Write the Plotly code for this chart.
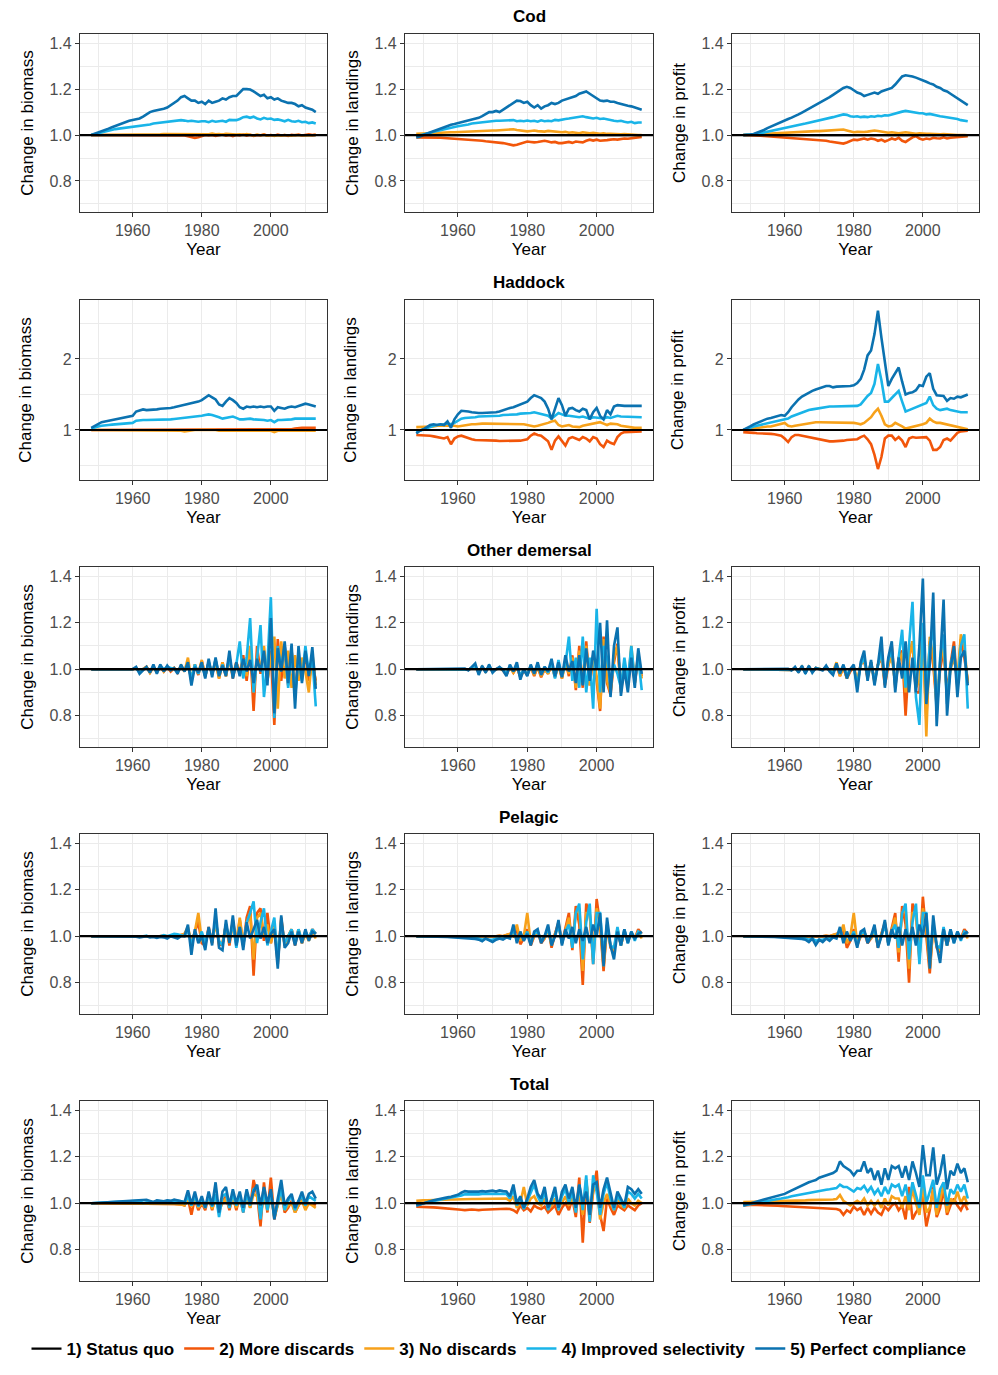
import plotly.graph_objects as go
from plotly.subplots import make_subplots

YEARS = [1948, 1949,
         1950, 1951, 1952, 1953, 1954, 1955, 1956, 1957, 1958, 1959,
         1960, 1961, 1962, 1963, 1964, 1965, 1966, 1967, 1968, 1969,
         1970, 1971, 1972, 1973, 1974, 1975, 1976, 1977, 1978, 1979,
         1980, 1981, 1982, 1983, 1984, 1985, 1986, 1987, 1988, 1989,
         1990, 1991, 1992, 1993, 1994, 1995, 1996, 1997, 1998, 1999,
         2000, 2001, 2002, 2003, 2004, 2005, 2006, 2007, 2008, 2009,
         2010, 2011, 2012, 2013]

SCENARIOS = ["1) Status quo", "2) More discards", "3) No discards",
             "4) Improved selectivity", "5) Perfect compliance"]
STOCKS = ["Cod", "Haddock", "Other demersal", "Pelagic", "Total"]
METRICS = ["Change in biomass", "Change in landings", "Change in profit"]

STATUS_QUO = [1.0, 1.0,
              1.0, 1.0, 1.0, 1.0, 1.0, 1.0, 1.0, 1.0, 1.0, 1.0,
              1.0, 1.0, 1.0, 1.0, 1.0, 1.0, 1.0, 1.0, 1.0, 1.0,
              1.0, 1.0, 1.0, 1.0, 1.0, 1.0, 1.0, 1.0, 1.0, 1.0,
              1.0, 1.0, 1.0, 1.0, 1.0, 1.0, 1.0, 1.0, 1.0, 1.0,
              1.0, 1.0, 1.0, 1.0, 1.0, 1.0, 1.0, 1.0, 1.0, 1.0,
              1.0, 1.0, 1.0, 1.0, 1.0, 1.0, 1.0, 1.0, 1.0, 1.0,
              1.0, 1.0, 1.0, 1.0]

# ---------------- Cod ----------------
COD_BIO_MD = [1.000, 1.000,
              1.000, 1.000, 1.000, 1.000, 1.000, 1.000, 1.000, 1.000, 1.000, 1.000,
              1.000, 1.000, 1.000, 1.000, 1.000, 1.000, 1.000, 1.000, 1.000, 1.000,
              1.000, 1.000, 1.000, 1.000, 0.999, 0.998, 0.995, 0.990, 0.988, 0.990,
              0.995, 1.000, 0.998, 1.000, 0.996, 1.000, 1.002, 0.997, 1.000, 0.995,
              1.000, 0.998, 1.002, 0.997, 1.001, 0.996, 1.000, 0.998, 1.003, 0.997,
              1.000, 0.997, 1.002, 0.998, 1.000, 0.996, 1.001, 0.999, 1.002, 0.998,
              1.000, 1.003, 1.000, 1.002]
COD_BIO_ND = [1.000, 1.000,
              1.000, 1.000, 1.000, 1.001, 1.001, 1.001, 1.001, 1.001, 1.002, 1.002,
              1.002, 1.002, 1.002, 1.003, 1.003, 1.003, 1.003, 1.003, 1.003, 1.004,
              1.004, 1.004, 1.004, 1.005, 1.005, 1.005, 1.004, 1.003, 1.002, 1.003,
              1.005, 1.004, 1.003, 1.006, 1.003, 1.004, 1.002, 1.005, 1.003, 1.004,
              1.002, 1.003, 1.001, 1.004, 1.000, 0.998, 1.002, 0.999, 1.001, 0.997,
              1.000, 0.996, 0.999, 0.997, 1.000, 0.998, 0.997, 1.000, 0.998, 0.999,
              0.998, 1.000, 0.999, 1.000]
COD_BIO_IS = [1.000, 1.004,
              1.008, 1.012, 1.016, 1.020, 1.023, 1.026, 1.028, 1.030, 1.031, 1.032,
              1.034, 1.036, 1.038, 1.040, 1.043, 1.046, 1.050, 1.052, 1.054, 1.056,
              1.058, 1.060, 1.062, 1.064, 1.065, 1.063, 1.060, 1.062, 1.060, 1.058,
              1.060, 1.060, 1.056, 1.062, 1.058, 1.060, 1.062, 1.058, 1.066, 1.065,
              1.065, 1.070, 1.078, 1.080, 1.075, 1.080, 1.072, 1.068, 1.075, 1.070,
              1.072, 1.066, 1.068, 1.064, 1.060, 1.066, 1.060, 1.058, 1.062, 1.056,
              1.058, 1.052, 1.055, 1.050]
COD_BIO_PC = [1.000, 1.005,
              1.010, 1.016, 1.022, 1.028, 1.034, 1.040, 1.046, 1.052, 1.057, 1.062,
              1.066, 1.068, 1.072, 1.080, 1.090, 1.100, 1.105, 1.108, 1.110, 1.115,
              1.120, 1.130, 1.140, 1.150, 1.165, 1.170, 1.160, 1.150, 1.150, 1.140,
              1.145, 1.135, 1.150, 1.140, 1.145, 1.150, 1.160, 1.155, 1.165, 1.170,
              1.170, 1.185, 1.200, 1.200, 1.198, 1.190, 1.180, 1.170, 1.175, 1.160,
              1.165, 1.155, 1.160, 1.150, 1.145, 1.140, 1.140, 1.135, 1.125, 1.130,
              1.120, 1.115, 1.110, 1.100]

COD_LAND_MD = [0.990, 0.990,
               0.991, 0.990, 0.990, 0.989, 0.988, 0.988, 0.987, 0.986, 0.986, 0.985,
               0.985, 0.984, 0.983, 0.982, 0.980, 0.978, 0.976, 0.975, 0.973, 0.972,
               0.970, 0.968, 0.967, 0.965, 0.962, 0.958, 0.955, 0.958, 0.962, 0.968,
               0.972, 0.970, 0.968, 0.970, 0.972, 0.975, 0.972, 0.968, 0.970, 0.965,
               0.965, 0.968, 0.970, 0.966, 0.972, 0.970, 0.968, 0.975, 0.980, 0.976,
               0.980, 0.975, 0.975, 0.978, 0.980, 0.982, 0.980, 0.983, 0.985, 0.984,
               0.986, 0.988, 0.990, 0.992]
COD_LAND_ND = [1.005, 1.006,
               1.007, 1.008, 1.008, 1.009, 1.010, 1.010, 1.010, 1.011, 1.012, 1.012,
               1.013, 1.014, 1.015, 1.015, 1.016, 1.017, 1.017, 1.018, 1.018, 1.019,
               1.020, 1.020, 1.021, 1.022, 1.022, 1.023, 1.025, 1.022, 1.020, 1.018,
               1.016, 1.018, 1.020, 1.017, 1.016, 1.015, 1.018, 1.016, 1.014, 1.012,
               1.012, 1.014, 1.010, 1.012, 1.010, 1.008, 1.012, 1.010, 1.008, 1.010,
               1.008, 1.006, 1.008, 1.005, 1.006, 1.004, 1.005, 1.003, 1.004, 1.002,
               1.002, 1.001, 1.000, 1.000]
COD_LAND_IS = [0.995, 0.998,
               1.002, 1.006, 1.010, 1.014, 1.018, 1.022, 1.026, 1.030, 1.032, 1.035,
               1.038, 1.040, 1.043, 1.046, 1.050, 1.052, 1.055, 1.056, 1.058, 1.060,
               1.060, 1.062, 1.062, 1.063, 1.064, 1.062, 1.065, 1.060, 1.062, 1.060,
               1.063, 1.060, 1.062, 1.058, 1.064, 1.060, 1.062, 1.060, 1.066, 1.064,
               1.068, 1.070, 1.072, 1.075, 1.078, 1.080, 1.082, 1.078, 1.075, 1.072,
               1.075, 1.070, 1.072, 1.068, 1.065, 1.062, 1.060, 1.062, 1.058, 1.055,
               1.058, 1.052, 1.055, 1.055]
COD_LAND_PC = [0.990, 0.993,
               1.000, 1.006, 1.012, 1.018, 1.024, 1.030, 1.036, 1.040, 1.045, 1.048,
               1.052, 1.055, 1.058, 1.062, 1.066, 1.070, 1.075, 1.082, 1.090, 1.100,
               1.100, 1.105, 1.100, 1.110, 1.120, 1.130, 1.140, 1.150, 1.148, 1.140,
               1.145, 1.130, 1.120, 1.130, 1.115, 1.125, 1.130, 1.140, 1.135, 1.140,
               1.150, 1.155, 1.160, 1.165, 1.170, 1.180, 1.185, 1.190, 1.180, 1.170,
               1.160, 1.150, 1.148, 1.150, 1.145, 1.145, 1.140, 1.135, 1.130, 1.128,
               1.125, 1.120, 1.115, 1.110]

COD_PROF_MD = [1.000, 1.000,
               0.999, 0.998, 0.998, 0.997, 0.996, 0.995, 0.994, 0.993, 0.992, 0.991,
               0.990, 0.989, 0.988, 0.987, 0.986, 0.985, 0.984, 0.983, 0.982, 0.980,
               0.979, 0.977, 0.975, 0.972, 0.970, 0.968, 0.965, 0.963, 0.968, 0.975,
               0.980, 0.978, 0.982, 0.985, 0.980, 0.985, 0.982, 0.975, 0.980, 0.972,
               0.978, 0.985, 0.980, 0.988, 0.975, 0.970, 0.980, 0.990, 0.995, 0.985,
               0.980, 0.985, 0.982, 0.988, 0.986, 0.985, 0.990, 0.985, 0.988, 0.990,
               0.990, 0.992, 0.995, 0.995]
COD_PROF_ND = [1.000, 1.000,
               1.001, 1.002, 1.003, 1.004, 1.005, 1.006, 1.007, 1.008, 1.009, 1.010,
               1.010, 1.011, 1.012, 1.012, 1.013, 1.014, 1.015, 1.015, 1.016, 1.017,
               1.017, 1.018, 1.018, 1.019, 1.020, 1.020, 1.022, 1.024, 1.020, 1.015,
               1.012, 1.014, 1.012, 1.013, 1.015, 1.017, 1.020, 1.018, 1.015, 1.012,
               1.010, 1.012, 1.010, 1.008, 1.010, 1.012, 1.010, 1.008, 1.006, 1.008,
               1.006, 1.005, 1.006, 1.004, 1.005, 1.003, 1.004, 1.002, 1.003, 1.001,
               1.000, 1.001, 1.000, 0.999]
COD_PROF_IS = [1.000, 1.000,
               1.001, 1.003, 1.005, 1.008, 1.012, 1.015, 1.018, 1.021, 1.024, 1.027,
               1.030, 1.033, 1.036, 1.039, 1.042, 1.046, 1.050, 1.054, 1.057, 1.060,
               1.063, 1.066, 1.070, 1.074, 1.078, 1.082, 1.086, 1.090, 1.088, 1.082,
               1.080, 1.082, 1.078, 1.080, 1.078, 1.082, 1.080, 1.084, 1.082, 1.086,
               1.085, 1.090, 1.095, 1.100, 1.102, 1.105, 1.102, 1.100, 1.098, 1.095,
               1.095, 1.090, 1.092, 1.088, 1.085, 1.082, 1.080, 1.078, 1.075, 1.072,
               1.070, 1.065, 1.062, 1.060]
COD_PROF_PC = [1.000, 1.000,
               1.002, 1.005, 1.010, 1.015, 1.022, 1.030, 1.037, 1.045, 1.052, 1.058,
               1.064, 1.070, 1.076, 1.082, 1.090, 1.098, 1.106, 1.114, 1.122, 1.130,
               1.138, 1.146, 1.155, 1.165, 1.175, 1.185, 1.195, 1.205, 1.210, 1.205,
               1.195, 1.185, 1.180, 1.170, 1.175, 1.180, 1.185, 1.180, 1.190, 1.195,
               1.200, 1.205, 1.220, 1.240, 1.255, 1.260, 1.258, 1.255, 1.250, 1.245,
               1.240, 1.232, 1.225, 1.220, 1.210, 1.205, 1.195, 1.190, 1.180, 1.170,
               1.160, 1.150, 1.140, 1.130]

# ---------------- Haddock ----------------
HAD_BIO_MD = [1.00, 1.00,
              1.00, 1.00, 1.00, 1.00, 1.00, 1.00, 1.00, 1.00, 1.00, 1.00,
              1.00, 1.00, 1.00, 1.00, 1.00, 1.00, 1.00, 1.00, 1.00, 1.00,
              1.00, 1.00, 1.00, 1.00, 1.00, 1.00, 1.00, 1.00, 1.00, 1.00,
              1.00, 1.00, 1.00, 1.00, 1.00, 1.00, 1.00, 1.00, 1.00, 1.00,
              1.00, 1.00, 1.00, 1.00, 1.00, 1.00, 1.00, 1.00, 1.00, 1.00,
              1.00, 1.00, 1.00, 1.00, 1.00, 1.01, 1.01, 1.02, 1.03, 1.03,
              1.03, 1.03, 1.03, 1.03]
HAD_BIO_ND = [1.00, 1.00,
              1.00, 1.00, 1.00, 1.00, 1.00, 1.00, 1.00, 1.00, 1.00, 1.00,
              1.00, 1.00, 1.00, 1.00, 1.00, 1.00, 1.00, 1.00, 1.00, 1.00,
              1.00, 1.00, 1.00, 0.99, 0.99, 0.98, 0.99, 1.00, 1.00, 1.00,
              1.00, 1.00, 1.01, 1.00, 1.00, 0.99, 0.99, 0.99, 0.99, 0.99,
              0.99, 0.99, 0.99, 0.99, 0.98, 0.99, 0.98, 0.99, 0.99, 0.98,
              0.99, 0.97, 0.99, 0.99, 0.99, 0.99, 0.99, 0.99, 0.99, 0.99,
              0.99, 0.99, 0.99, 0.99]
HAD_BIO_IS = [1.02, 1.04,
              1.05, 1.06, 1.07, 1.07, 1.075, 1.08, 1.08, 1.085, 1.09, 1.095,
              1.10, 1.13, 1.14, 1.14, 1.14, 1.14, 1.14, 1.145, 1.145, 1.15,
              1.15, 1.15, 1.155, 1.16, 1.16, 1.165, 1.17, 1.175, 1.18, 1.19,
              1.20, 1.21, 1.22, 1.21, 1.20, 1.18, 1.16, 1.17, 1.19, 1.19,
              1.17, 1.15, 1.15, 1.16, 1.16, 1.15, 1.15, 1.14, 1.14, 1.13,
              1.14, 1.11, 1.14, 1.14, 1.14, 1.15, 1.15, 1.16, 1.16, 1.17,
              1.17, 1.17, 1.16, 1.16]
HAD_BIO_PC = [1.03, 1.06,
              1.09, 1.11, 1.12, 1.13, 1.13, 1.14, 1.15, 1.16, 1.17, 1.18,
              1.20, 1.26, 1.28, 1.29, 1.28, 1.28, 1.29, 1.29, 1.30, 1.30,
              1.31, 1.31, 1.32, 1.33, 1.34, 1.35, 1.36, 1.37, 1.38, 1.40,
              1.42, 1.45, 1.49, 1.46, 1.43, 1.36, 1.34, 1.40, 1.45, 1.42,
              1.38, 1.32, 1.30, 1.33, 1.32, 1.33, 1.32, 1.33, 1.32, 1.33,
              1.33, 1.27, 1.32, 1.31, 1.30, 1.32, 1.33, 1.32, 1.34, 1.36,
              1.37, 1.36, 1.35, 1.33]

HAD_LAND_MD = [0.93, 0.93,
               0.92, 0.92, 0.92, 0.91, 0.90, 0.89, 0.88, 0.90, 0.80, 0.88,
               0.91, 0.92, 0.90, 0.88, 0.87, 0.86, 0.86, 0.85, 0.85, 0.85,
               0.85, 0.85, 0.845, 0.845, 0.845, 0.845, 0.85, 0.85, 0.85, 0.86,
               0.87, 0.92, 0.95, 0.93, 0.92, 0.88, 0.84, 0.72, 0.85, 0.91,
               0.84, 0.78, 0.88, 0.90, 0.88, 0.86, 0.90, 0.88, 0.84, 0.90,
               0.88, 0.80, 0.76, 0.85, 0.82, 0.80, 0.90, 0.95, 0.97, 0.97,
               0.98, 0.98, 0.98, 0.98]
HAD_LAND_ND = [1.04, 1.04,
               1.05, 1.05, 1.05, 1.05, 1.06, 1.06, 1.06, 1.07, 1.07, 1.06,
               1.05, 1.06, 1.07, 1.08, 1.08, 1.08, 1.09, 1.09, 1.09, 1.09,
               1.09, 1.09, 1.09, 1.09, 1.09, 1.09, 1.09, 1.09, 1.09, 1.08,
               1.07, 1.06, 1.05, 1.06, 1.07, 1.08, 1.10, 1.12, 1.13, 1.07,
               1.05, 1.06, 1.07, 1.05, 1.04, 1.04, 1.06, 1.07, 1.08, 1.08,
               1.10, 1.11, 1.09, 1.07, 1.09, 1.09, 1.08, 1.06, 1.05, 1.04,
               1.04, 1.03, 1.03, 1.03]
HAD_LAND_IS = [0.97, 0.99,
               1.01, 1.03, 1.05, 1.06, 1.07, 1.07, 1.08, 1.09, 1.08, 1.10,
               1.13, 1.16, 1.17, 1.17, 1.18, 1.18, 1.19, 1.19, 1.19, 1.20,
               1.20, 1.20, 1.20, 1.21, 1.21, 1.21, 1.22, 1.22, 1.23, 1.23,
               1.24, 1.24, 1.25, 1.24, 1.23, 1.22, 1.20, 1.16, 1.20, 1.24,
               1.22, 1.20, 1.20, 1.19, 1.18, 1.18, 1.19, 1.18, 1.16, 1.18,
               1.18, 1.17, 1.16, 1.18, 1.17, 1.19, 1.20, 1.19, 1.19, 1.18,
               1.18, 1.18, 1.18, 1.18]
HAD_LAND_PC = [0.95, 0.99,
               1.01, 1.04, 1.07, 1.08, 1.07, 1.08, 1.07, 1.12, 1.03, 1.15,
               1.22, 1.27, 1.27, 1.26, 1.25, 1.24, 1.24, 1.24, 1.24, 1.24,
               1.25, 1.25, 1.26, 1.28, 1.30, 1.31, 1.32, 1.34, 1.35, 1.37,
               1.40, 1.45, 1.49, 1.47, 1.45, 1.40, 1.30, 1.15, 1.30, 1.45,
               1.35, 1.20, 1.30, 1.31, 1.28, 1.26, 1.30, 1.28, 1.15, 1.25,
               1.31, 1.20, 1.15, 1.28, 1.22, 1.33, 1.35, 1.34, 1.34, 1.34,
               1.34, 1.34, 1.35, 1.34]

HAD_PROF_MD = [0.97, 0.97,
               0.965, 0.96, 0.955, 0.955, 0.95, 0.95, 0.945, 0.94, 0.93, 0.92,
               0.88, 0.83, 0.90, 0.93, 0.93, 0.92, 0.90, 0.89, 0.88, 0.87,
               0.86, 0.86, 0.85, 0.84, 0.84, 0.84, 0.84, 0.85, 0.86, 0.86,
               0.86, 0.87, 0.90, 0.92, 0.87, 0.80, 0.65, 0.45, 0.62, 0.88,
               0.92, 0.92, 0.86, 0.90, 0.85, 0.76, 0.88, 0.90, 0.89, 0.89,
               0.89, 0.90, 0.85, 0.72, 0.72, 0.76, 0.86, 0.88, 0.85, 0.90,
               0.96, 0.98, 0.99, 0.99]
HAD_PROF_ND = [1.00, 1.00,
               1.01, 1.02, 1.03, 1.03, 1.04, 1.05, 1.05, 1.06, 1.07, 1.08,
               1.10, 1.06, 1.05, 1.06, 1.07, 1.08, 1.09, 1.10, 1.10, 1.11,
               1.11, 1.11, 1.11, 1.11, 1.11, 1.11, 1.11, 1.11, 1.11, 1.10,
               1.10, 1.09, 1.08, 1.10, 1.14, 1.18, 1.25, 1.30, 1.20, 1.08,
               1.05, 1.06, 1.10, 1.08, 1.05, 1.02, 1.03, 1.05, 1.06, 1.06,
               1.08, 1.10, 1.16, 1.12, 1.10, 1.10, 1.09, 1.07, 1.06, 1.05,
               1.04, 1.03, 1.02, 1.01]
HAD_PROF_IS = [1.00, 1.01,
               1.03, 1.05, 1.06, 1.07, 1.08, 1.09, 1.10, 1.11, 1.12, 1.13,
               1.14, 1.16, 1.19, 1.21, 1.23, 1.25, 1.27, 1.28, 1.29, 1.30,
               1.31, 1.32, 1.33, 1.33, 1.33, 1.33, 1.33, 1.33, 1.33, 1.33,
               1.33, 1.34, 1.36, 1.42, 1.48, 1.52, 1.65, 1.93, 1.70, 1.40,
               1.40, 1.45, 1.50, 1.55, 1.40, 1.26, 1.28, 1.30, 1.32, 1.34,
               1.35, 1.38, 1.47, 1.35, 1.30, 1.28, 1.29, 1.30, 1.28, 1.27,
               1.25, 1.25, 1.25, 1.25]
HAD_PROF_PC = [1.00, 1.02,
               1.05, 1.08, 1.10, 1.13, 1.15, 1.16, 1.17, 1.18, 1.20, 1.21,
               1.20, 1.25, 1.32, 1.38, 1.43, 1.47, 1.50, 1.53, 1.55, 1.57,
               1.59, 1.61, 1.62, 1.62, 1.60, 1.61, 1.61, 1.62, 1.62, 1.62,
               1.63, 1.66, 1.72, 1.85, 2.05, 2.12, 2.35, 2.68, 2.30, 1.95,
               1.62, 1.72, 1.80, 1.88, 1.68, 1.50, 1.52, 1.53, 1.56, 1.63,
               1.62, 1.75, 1.80, 1.58, 1.49, 1.49, 1.48, 1.41, 1.45, 1.44,
               1.47, 1.46, 1.48, 1.50]

# ---------------- Other demersal ----------------
OTH_BIO_MD = [1.0, 1.0,
              1.0, 1.0, 1.0, 1.0, 1.0, 1.0, 1.0, 1.0, 1.0, 1.0,
              1.0, 1.005, 0.99, 1.0, 1.01, 0.985, 1.01, 0.99, 1.01, 0.99,
              1.01, 0.99, 1.005, 0.985, 1.015, 0.99, 1.03, 0.95, 1.02, 0.975,
              1.035, 0.97, 1.03, 0.975, 1.04, 0.96, 1.03, 0.97, 1.05, 0.96,
              1.03, 0.98, 1.06, 0.95, 1.09, 0.82, 1.10, 0.98, 1.07, 0.95,
              1.08, 0.76, 1.13, 0.95, 1.10, 0.93, 1.08, 0.90, 1.06, 0.96,
              1.07, 0.95, 1.03, 0.95]
OTH_BIO_ND = [1.0, 1.0,
              1.0, 1.0, 1.0, 1.0, 1.0, 1.0, 1.0, 1.0, 1.0, 1.0,
              1.0, 1.005, 0.99, 1.0, 1.01, 0.985, 1.01, 0.985, 1.015, 0.99,
              1.01, 0.995, 1.005, 0.99, 1.015, 0.99, 1.05, 0.95, 1.02, 0.98,
              1.04, 0.97, 1.03, 0.98, 1.03, 0.96, 1.03, 0.97, 1.05, 0.97,
              1.03, 0.98, 1.04, 0.97, 1.10, 0.90, 1.05, 1.00, 1.10, 0.95,
              1.05, 1.14, 0.83, 1.12, 0.96, 1.08, 0.92, 1.06, 0.95, 1.05,
              0.99, 0.90, 1.07, 0.93]
OTH_BIO_IS = [1.0, 1.0,
              1.0, 1.0, 1.0, 1.0, 1.0, 1.0, 1.0, 1.0, 1.0, 1.0,
              1.0, 1.005, 0.985, 1.0, 1.005, 0.99, 1.01, 0.99, 1.015, 1.0,
              1.01, 1.005, 1.0, 0.99, 1.01, 0.995, 1.02, 0.96, 1.02, 0.98,
              1.02, 0.97, 1.03, 0.98, 1.04, 0.975, 1.02, 0.98, 1.05, 0.97,
              1.02, 1.12, 0.96, 1.05, 1.22, 0.90, 1.06, 1.19, 0.88, 1.02,
              1.31, 0.79, 1.10, 1.00, 1.10, 0.92, 1.08, 0.88, 1.05, 0.95,
              1.10, 0.98, 1.05, 0.84]
OTH_BIO_PC = [1.0, 1.0,
              1.0, 1.0, 1.0, 1.0, 1.0, 1.0, 1.0, 1.0, 0.998, 1.0,
              1.0, 1.01, 0.98, 0.995, 1.01, 0.985, 1.02, 0.98, 1.02, 0.99,
              1.015, 0.995, 1.005, 0.98, 1.02, 0.99, 1.03, 0.93, 1.01, 0.985,
              1.03, 0.96, 1.045, 0.965, 1.05, 0.97, 1.015, 0.97, 1.08, 0.96,
              1.03, 0.97, 1.045, 0.99, 1.04, 0.94, 1.045, 0.99, 1.08, 0.93,
              1.22, 0.81, 1.09, 0.99, 1.12, 0.94, 1.11, 0.83, 1.10, 0.94,
              1.08, 0.97, 1.095, 0.915]

OTH_LAND_MD = [1.0, 1.0,
               1.0, 1.0, 1.0, 1.0, 1.0, 1.0, 1.0, 1.0, 1.0, 1.0,
               1.0, 1.0, 1.0, 0.998, 1.005, 1.01, 0.985, 1.01, 0.99, 1.01,
               0.99, 1.0, 1.005, 0.995, 0.975, 1.01, 0.985, 1.01, 0.965, 0.995,
               0.975, 1.01, 0.97, 1.01, 0.965, 1.0, 0.98, 1.02, 0.965, 1.02,
               0.96, 1.04, 0.97, 1.06, 0.91, 1.10, 0.92, 1.12, 0.93, 1.05,
               0.95, 0.82, 1.14, 0.94, 0.89, 1.03, 1.11, 0.90, 1.02, 0.92,
               1.08, 0.94, 1.05, 0.97]
OTH_LAND_ND = [1.0, 1.0,
               1.0, 1.0, 1.0, 1.0, 1.0, 1.0, 1.0, 1.0, 1.0, 1.0,
               1.0, 1.0, 1.0, 0.998, 1.005, 1.01, 0.99, 1.01, 0.99, 1.01,
               0.99, 1.0, 1.005, 0.995, 0.98, 1.01, 0.985, 1.01, 0.97, 0.995,
               0.98, 1.01, 0.975, 1.01, 0.97, 1.0, 0.98, 1.02, 0.97, 1.02,
               0.96, 1.03, 0.98, 1.05, 0.92, 1.08, 0.94, 1.10, 0.93, 1.06,
               0.97, 0.83, 1.13, 0.95, 0.90, 1.05, 1.10, 0.92, 1.03, 0.93,
               1.10, 0.94, 1.07, 0.96]
OTH_LAND_IS = [1.0, 1.0,
               1.0, 1.0, 1.0, 1.0, 1.0, 1.0, 1.0, 1.0, 1.0, 1.0,
               1.0, 1.0, 1.0, 0.998, 1.005, 1.015, 0.985, 1.01, 0.99, 1.015,
               0.99, 1.0, 1.005, 1.0, 0.98, 1.015, 0.99, 1.02, 0.97, 1.0,
               0.975, 1.015, 0.985, 1.02, 0.98, 1.01, 0.985, 1.03, 0.96, 1.04,
               0.97, 1.02, 1.14, 0.95, 1.05, 0.92, 1.14, 0.90, 1.05, 0.83,
               1.26, 0.90, 1.10, 1.05, 0.93, 1.02, 0.98, 0.92, 1.05, 0.95,
               1.10, 0.95, 1.05, 0.91]
OTH_LAND_PC = [1.0, 1.0,
               1.0, 1.0, 1.0, 1.0, 1.0, 1.0, 1.0, 1.0, 1.0, 1.0,
               1.0, 1.0, 1.003, 0.995, 1.01, 1.025, 0.975, 1.015, 0.985, 1.02,
               0.985, 1.0, 1.01, 0.995, 0.97, 1.02, 0.99, 1.03, 0.955, 1.0,
               0.97, 1.02, 0.98, 1.03, 0.975, 1.01, 0.99, 1.045, 0.97, 1.03,
               0.965, 1.06, 0.99, 1.035, 0.94, 1.06, 0.93, 1.09, 0.95, 1.08,
               1.00, 1.20, 0.90, 1.21, 0.88, 1.10, 1.18, 0.885, 1.00, 0.90,
               1.05, 0.92, 1.09, 0.98]

OTH_PROF_MD = [1.0, 1.0,
               1.0, 1.0, 1.0, 1.0, 1.0, 1.0, 1.0, 1.0, 1.0, 1.0,
               1.0, 1.0, 0.997, 1.005, 0.99, 1.01, 0.987, 1.01, 0.99, 1.005,
               1.0, 0.998, 1.005, 0.995, 0.985, 1.02, 0.97, 1.01, 0.96, 0.99,
               1.01, 0.94, 1.02, 1.04, 0.96, 1.03, 0.95, 1.02, 1.05, 0.93,
               1.02, 1.10, 0.92, 1.05, 1.08, 0.80, 1.05, 1.12, 0.90, 0.90,
               1.15, 0.78, 1.12, 1.02, 0.84, 1.00, 1.08, 0.90, 1.02, 1.12,
               0.92, 1.13, 1.05, 0.95]
OTH_PROF_ND = [1.0, 1.0,
               1.0, 1.0, 1.0, 1.0, 1.0, 1.0, 1.0, 1.0, 1.0, 1.0,
               1.0, 1.0, 0.997, 1.005, 0.99, 1.01, 0.987, 1.01, 0.99, 1.005,
               1.0, 0.998, 1.008, 0.995, 0.99, 1.03, 0.97, 1.01, 0.96, 1.0,
               1.01, 0.95, 1.02, 1.04, 0.97, 1.03, 0.94, 1.02, 1.06, 0.95,
               1.02, 1.05, 0.94, 1.03, 1.07, 0.90, 1.05, 1.12, 0.92, 0.95,
               1.18, 0.71, 1.14, 1.05, 0.85, 1.03, 1.10, 0.88, 1.00, 1.05,
               0.95, 1.15, 1.10, 0.94]
OTH_PROF_IS = [1.0, 1.0,
               1.0, 1.0, 1.0, 1.0, 1.0, 1.0, 1.0, 1.0, 1.0, 1.0,
               1.0, 1.0, 0.997, 1.005, 0.99, 1.01, 0.985, 1.01, 0.99, 1.005,
               1.0, 0.998, 1.01, 0.995, 0.985, 1.015, 0.99, 1.015, 0.975, 1.0,
               1.01, 0.93, 1.02, 1.05, 0.97, 1.03, 0.95, 1.02, 1.08, 0.94,
               1.04, 1.08, 0.93, 1.05, 1.17, 0.92, 1.10, 1.29, 0.88, 0.76,
               1.20, 0.90, 1.10, 1.18, 0.80, 1.05, 1.15, 0.85, 1.02, 1.08,
               0.93, 1.10, 1.15, 0.83]
OTH_PROF_PC = [1.0, 1.0,
               1.0, 1.0, 1.0, 1.0, 1.0, 1.0, 1.0, 1.0, 1.0, 1.0,
               1.0, 1.002, 0.995, 1.01, 0.985, 1.015, 0.98, 1.015, 0.985, 1.005,
               1.0, 0.995, 1.015, 0.99, 0.975, 1.025, 0.98, 1.02, 0.96, 1.0,
               1.02, 0.90, 1.03, 1.08, 0.95, 1.04, 0.93, 1.02, 1.14, 0.92,
               1.05, 1.12, 0.90, 1.05, 0.96, 1.12, 0.90, 1.05, 0.90, 1.10,
               1.39, 0.85, 1.02, 1.33, 0.755, 1.05, 1.30, 0.80, 1.00, 1.10,
               0.88, 1.05, 1.08, 0.93]

# ---------------- Pelagic ----------------
PEL_BIO_MD = [1.0, 1.0,
              1.0, 1.0, 1.0, 1.0, 1.0, 1.0, 1.0, 1.0, 1.0, 1.0,
              1.0, 1.0, 1.0, 1.0, 1.002, 1.0, 1.0, 0.998, 1.0, 1.002,
              1.0, 1.0, 1.002, 1.0, 1.005, 1.01, 1.03, 0.97, 1.02, 1.06,
              0.97, 0.96, 1.04, 0.97, 1.07, 0.96, 0.97, 1.05, 0.96, 1.07,
              0.97, 1.07, 0.96, 1.08, 1.13, 0.83, 1.10, 1.12, 0.98, 1.10,
              0.97, 1.05, 0.88, 1.08, 0.96, 1.00, 1.03, 0.96, 1.03, 0.97,
              1.02, 0.99, 1.03, 1.01]
PEL_BIO_ND = [1.0, 1.0,
              1.0, 1.0, 1.0, 1.0, 1.0, 1.0, 1.0, 1.0, 1.0, 1.0,
              1.0, 1.0, 1.0, 1.0, 1.002, 1.0, 1.0, 0.998, 1.0, 1.002,
              1.0, 1.0, 1.002, 1.0, 1.005, 1.01, 1.04, 0.97, 1.02, 1.10,
              0.98, 0.97, 1.03, 0.97, 1.06, 0.97, 0.97, 1.05, 0.97, 1.06,
              0.97, 1.08, 0.97, 1.05, 1.10, 0.90, 1.08, 1.10, 1.00, 1.05,
              0.97, 1.04, 0.90, 1.07, 0.96, 1.00, 1.03, 0.97, 1.03, 0.97,
              1.01, 0.98, 1.02, 0.99]
PEL_BIO_IS = [1.0, 1.0,
              1.0, 1.0, 1.0, 1.0, 1.0, 1.0, 1.0, 1.0, 1.0, 1.0,
              1.0, 1.0, 0.998, 1.0, 1.002, 0.998, 1.0, 0.998, 1.0, 1.005,
              1.0, 1.005, 1.01, 1.008, 1.005, 1.0, 1.03, 0.96, 1.02, 0.98,
              1.02, 0.97, 1.03, 0.98, 1.07, 0.98, 0.96, 1.05, 0.98, 1.06,
              0.95, 1.04, 0.96, 1.06, 1.10, 1.15, 0.97, 1.06, 1.12, 0.96,
              1.02, 1.08, 0.90, 1.06, 0.97, 1.00, 1.03, 0.97, 1.03, 0.98,
              1.02, 0.99, 1.03, 1.01]
PEL_BIO_PC = [1.0, 1.0,
              1.0, 1.0, 1.0, 1.0, 1.0, 1.0, 1.0, 1.0, 1.0, 1.0,
              1.0, 0.998, 0.995, 0.996, 1.0, 0.995, 0.997, 0.993, 0.997, 0.995,
              0.99, 1.0, 0.995, 0.99, 1.0, 1.0, 1.05, 0.92, 1.03, 0.97,
              1.0, 0.94, 1.04, 0.96, 1.12, 0.95, 0.94, 1.07, 0.97, 1.09,
              0.96, 1.04, 0.94, 1.06, 0.99, 1.03, 1.07, 0.99, 1.04, 0.97,
              1.01, 1.03, 0.86, 1.09, 0.95, 0.97, 1.02, 0.96, 1.02, 0.97,
              1.03, 0.98, 1.02, 1.01]

PEL_LAND_MD = [1.0, 1.0,
               1.0, 1.0, 1.0, 1.0, 1.0, 1.0, 1.0, 1.0, 1.0, 1.0,
               1.0, 1.0, 1.0, 1.0, 0.998, 1.0, 1.0, 0.998, 1.0, 1.0,
               1.0, 1.0, 1.002, 1.0, 1.005, 1.01, 1.0, 1.03, 0.965, 0.99,
               1.03, 0.96, 1.0, 1.02, 0.97, 0.99, 1.04, 0.95, 1.01, 1.06,
               0.97, 1.04, 1.10, 0.94, 1.13, 1.05, 0.79, 1.14, 1.10, 0.88,
               1.16, 1.05, 0.85, 1.05, 0.95, 0.93, 1.03, 0.96, 1.02, 0.98,
               1.01, 0.99, 1.03, 1.01]
PEL_LAND_ND = [1.0, 1.0,
               1.0, 1.0, 1.0, 1.0, 1.0, 1.0, 1.0, 1.0, 1.0, 1.0,
               1.0, 1.0, 1.0, 1.0, 0.998, 1.0, 1.0, 0.998, 1.0, 1.0,
               1.0, 1.0, 1.002, 1.0, 1.005, 1.01, 1.0, 1.05, 0.98, 1.0,
               1.10, 0.97, 1.0, 1.02, 0.98, 0.99, 1.03, 0.96, 1.01, 1.05,
               0.97, 1.03, 1.08, 0.95, 1.10, 1.12, 0.85, 1.10, 1.10, 0.90,
               1.12, 1.05, 0.87, 1.04, 0.96, 0.94, 1.03, 0.96, 1.02, 0.98,
               1.01, 0.99, 1.02, 0.99]
PEL_LAND_IS = [1.0, 1.0,
               1.0, 1.0, 1.0, 1.0, 1.0, 1.0, 1.0, 1.0, 1.0, 1.0,
               0.998, 0.997, 0.995, 0.995, 0.994, 0.993, 0.99, 0.985, 0.99, 0.985,
               0.985, 0.99, 0.99, 0.99, 1.0, 0.995, 1.03, 0.98, 1.01, 0.985,
               1.02, 0.97, 1.01, 1.02, 0.98, 1.0, 1.03, 0.97, 1.0, 1.05,
               0.97, 1.02, 1.05, 0.95, 1.10, 1.14, 0.90, 1.06, 1.14, 0.88,
               1.10, 1.10, 0.92, 1.05, 0.96, 0.95, 1.04, 0.96, 1.03, 0.97,
               1.02, 0.98, 1.02, 1.01]
PEL_LAND_PC = [1.0, 1.0,
               1.0, 1.0, 1.0, 0.999, 0.998, 0.998, 0.997, 0.997, 0.996, 0.995,
               0.995, 0.995, 0.993, 0.99, 0.992, 0.988, 0.985, 0.978, 0.99, 0.982,
               0.975, 0.985, 0.99, 0.985, 0.995, 0.99, 1.05, 0.97, 1.02, 0.98,
               1.01, 0.96, 1.02, 1.03, 0.97, 1.0, 1.05, 0.96, 1.0, 1.07,
               0.96, 1.03, 0.99, 1.04, 0.97, 1.03, 0.98, 1.04, 0.97, 1.05,
               1.0, 1.10, 0.87, 1.08, 0.96, 0.90, 1.02, 0.96, 1.03, 0.97,
               1.02, 0.99, 1.01, 1.02]

PEL_PROF_MD = [1.0, 1.0,
               1.0, 1.0, 1.0, 1.0, 1.0, 1.0, 1.0, 1.0, 1.0, 1.0,
               1.0, 1.0, 1.0, 1.0, 0.998, 1.0, 1.0, 0.998, 1.0, 1.0,
               1.0, 1.0, 1.002, 1.0, 1.005, 1.01, 1.0, 1.03, 0.95, 0.98,
               1.03, 0.96, 1.0, 1.02, 0.97, 0.99, 1.04, 0.95, 1.01, 1.06,
               0.97, 1.04, 1.10, 0.89, 1.13, 1.05, 0.80, 1.14, 1.10, 0.90,
               1.17, 1.00, 0.84, 1.05, 0.95, 0.93, 1.03, 0.96, 1.02, 0.98,
               1.01, 0.99, 1.03, 1.01]
PEL_PROF_ND = [1.0, 1.0,
               1.0, 1.0, 1.0, 1.0, 1.0, 1.0, 1.0, 1.0, 1.0, 1.0,
               1.0, 1.0, 1.0, 1.0, 0.998, 1.0, 1.0, 0.998, 1.0, 1.0,
               1.0, 1.0, 1.002, 1.0, 1.005, 1.01, 1.0, 1.05, 0.97, 1.0,
               1.10, 0.97, 1.0, 1.02, 0.98, 0.99, 1.03, 0.96, 1.01, 1.05,
               0.97, 1.03, 1.08, 0.93, 1.10, 1.12, 0.86, 1.10, 1.10, 0.91,
               1.12, 1.03, 0.86, 1.04, 0.96, 0.94, 1.03, 0.96, 1.02, 0.98,
               1.01, 0.99, 1.02, 0.99]
PEL_PROF_IS = [1.0, 1.0,
               1.0, 1.0, 1.0, 1.0, 1.0, 1.0, 1.0, 1.0, 1.0, 1.0,
               0.998, 0.997, 0.995, 0.995, 0.994, 0.993, 0.99, 0.985, 0.99, 0.98,
               0.985, 0.985, 0.99, 0.99, 1.0, 0.995, 1.03, 0.98, 1.01, 0.985,
               1.02, 0.96, 1.01, 1.02, 0.98, 1.0, 1.03, 0.96, 1.0, 1.05,
               0.97, 1.02, 1.05, 0.95, 1.10, 1.14, 0.90, 1.06, 1.14, 0.88,
               1.10, 1.10, 0.92, 1.05, 0.96, 0.95, 1.04, 0.96, 1.03, 0.97,
               1.02, 0.98, 1.02, 1.01]
PEL_PROF_PC = [1.0, 1.0,
               1.0, 1.0, 1.0, 0.999, 0.998, 0.998, 0.997, 0.997, 0.996, 0.995,
               0.995, 0.994, 0.992, 0.99, 0.99, 0.988, 0.985, 0.975, 0.99, 0.962,
               0.985, 0.975, 0.99, 0.98, 0.995, 0.99, 1.04, 0.97, 1.02, 0.98,
               1.01, 0.95, 1.02, 1.03, 0.97, 1.0, 1.05, 0.95, 1.0, 1.07,
               0.96, 1.03, 0.99, 1.04, 0.96, 1.03, 0.98, 1.04, 0.96, 1.05,
               1.0, 1.10, 0.86, 1.09, 0.96, 0.885, 1.03, 0.96, 1.03, 0.97,
               1.02, 0.99, 1.01, 1.02]

# ---------------- Total ----------------
TOT_BIO_MD = [1.0, 1.0,
              1.0, 1.0, 1.0, 1.0, 1.0, 1.0, 1.0, 1.0, 1.0, 1.0,
              1.0, 1.0, 1.0, 1.0, 1.0, 1.0, 1.0, 1.0, 0.999, 0.999,
              0.998, 0.997, 0.997, 0.996, 0.995, 0.99, 1.02, 0.95, 1.02, 0.97,
              1.0, 0.97, 1.03, 0.97, 1.03, 0.96, 1.01, 1.03, 0.97, 1.03,
              0.97, 1.03, 0.96, 1.05, 0.98, 1.10, 1.04, 0.90, 1.09, 0.96,
              1.11, 0.93, 1.0, 1.05, 0.96, 0.98, 1.01, 0.96, 0.99, 1.02,
              0.98, 1.0, 1.0, 0.99]
TOT_BIO_ND = [1.0, 1.0,
              1.0, 1.0, 1.0, 1.0, 1.0, 1.0, 1.0, 1.0, 1.0, 1.0,
              1.0, 1.0, 1.0, 1.0, 1.0, 1.0, 1.0, 1.0, 0.998, 0.998,
              0.998, 0.997, 0.997, 0.996, 0.995, 0.99, 1.02, 0.985, 1.02, 0.98,
              1.0, 0.98, 1.03, 0.975, 1.02, 0.97, 1.0, 1.02, 0.98, 1.02,
              0.98, 1.02, 0.97, 1.03, 0.98, 1.04, 1.03, 0.95, 1.03, 0.97,
              1.03, 0.94, 0.99, 1.04, 0.97, 0.99, 1.0, 0.96, 0.99, 1.01,
              0.97, 1.0, 0.99, 0.98]
TOT_BIO_IS = [1.0, 1.0,
              1.001, 1.002, 1.003, 1.004, 1.005, 1.005, 1.006, 1.007, 1.008, 1.008,
              1.009, 1.01, 1.01, 1.0, 1.005, 1.008, 1.002, 1.01, 1.008, 1.005,
              1.01, 1.008, 1.012, 1.01, 1.008, 1.0, 1.03, 0.99, 1.03, 0.985,
              1.02, 0.98, 1.03, 0.985, 1.04, 0.94, 1.03, 1.04, 0.98, 1.04,
              0.99, 1.03, 0.96, 1.04, 0.99, 1.06, 1.07, 0.93, 1.06, 0.97,
              1.05, 0.94, 1.0, 1.06, 0.97, 1.01, 1.03, 0.97, 1.01, 1.03,
              0.99, 1.03, 1.02, 1.01]
TOT_BIO_PC = [1.0, 1.001,
              1.002, 1.003, 1.004, 1.005, 1.006, 1.007, 1.008, 1.009, 1.01, 1.011,
              1.012, 1.012, 1.014, 1.015, 1.015, 1.01, 1.005, 1.012, 1.01, 1.008,
              1.012, 1.01, 1.015, 1.012, 1.01, 1.005, 1.055, 0.995, 1.05, 0.99,
              1.03, 0.98, 1.05, 0.99, 1.09, 0.96, 1.05, 1.07, 0.99, 1.06,
              1.0, 1.05, 0.98, 1.06, 1.0, 1.05, 1.08, 0.99, 1.07, 1.0,
              1.06, 0.93, 1.02, 1.10, 0.99, 1.02, 1.04, 0.98, 1.01, 1.05,
              1.0, 1.04, 1.05, 1.02]

TOT_LAND_MD = [0.985, 0.985,
               0.985, 0.984, 0.983, 0.982, 0.981, 0.98, 0.98, 0.979, 0.978, 0.977,
               0.975, 0.972, 0.97, 0.972, 0.973, 0.972, 0.97, 0.972, 0.973, 0.972,
               0.973, 0.974, 0.975, 0.975, 0.976, 0.975, 0.97, 0.96, 0.99, 0.97,
               0.98, 0.965, 0.99, 0.98, 0.975, 0.985, 0.96, 0.975, 0.99, 0.95,
               0.98, 1.0, 0.97, 1.02, 0.94, 1.11, 0.83, 1.10, 0.915, 1.05,
               1.14, 0.95, 0.88, 1.02, 0.98, 0.95, 0.99, 0.98, 0.97, 0.99,
               0.98, 0.97, 0.99, 1.0]
TOT_LAND_ND = [1.01, 1.012,
               1.012, 1.012, 1.013, 1.013, 1.014, 1.014, 1.015, 1.015, 1.016, 1.016,
               1.017, 1.017, 1.018, 1.018, 1.018, 1.018, 1.018, 1.019, 1.019, 1.019,
               1.02, 1.02, 1.02, 1.02, 1.02, 1.01, 1.03, 0.98, 1.0, 1.07,
               0.99, 1.02, 1.03, 1.0, 0.99, 1.02, 0.98, 0.99, 1.02, 0.98,
               1.0, 1.03, 0.99, 1.02, 0.97, 1.06, 0.95, 1.10, 0.95, 1.05,
               1.08, 0.93, 1.0, 1.04, 1.0, 0.97, 1.02, 0.99, 0.98, 1.02,
               1.0, 0.99, 1.01, 1.0]
TOT_LAND_IS = [0.99, 0.995,
               1.0, 1.003, 1.007, 1.01, 1.013, 1.016, 1.018, 1.02, 1.022, 1.025,
               1.028, 1.033, 1.038, 1.038, 1.037, 1.036, 1.038, 1.04, 1.04, 1.041,
               1.042, 1.04, 1.043, 1.042, 1.04, 1.02, 1.06, 0.99, 1.02, 0.975,
               1.01, 1.05, 1.08, 1.03, 1.0, 1.05, 0.97, 1.01, 1.05, 0.97,
               1.03, 1.06, 1.0, 1.05, 0.96, 1.08, 0.97, 1.12, 0.92, 1.12,
               1.05, 0.95, 1.04, 1.09, 1.02, 0.97, 1.03, 1.01, 0.98, 1.05,
               1.04, 1.02, 1.04, 1.02]
TOT_LAND_PC = [0.99, 0.995,
               1.0, 1.005, 1.01, 1.013, 1.016, 1.02, 1.022, 1.025, 1.028, 1.032,
               1.036, 1.045, 1.052, 1.05, 1.05, 1.048, 1.05, 1.052, 1.05, 1.052,
               1.054, 1.05, 1.055, 1.052, 1.05, 1.03, 1.08, 1.0, 1.03, 0.98,
               1.02, 1.07, 1.10, 1.04, 1.02, 1.07, 0.98, 1.02, 1.07, 0.98,
               1.05, 1.08, 1.02, 1.07, 0.98, 1.08, 1.0, 1.05, 0.95, 1.08,
               1.09, 0.98, 1.06, 1.11, 1.04, 0.98, 1.05, 1.02, 0.99, 1.07,
               1.06, 1.04, 1.06, 1.04]

TOT_PROF_MD = [0.99, 0.992,
               0.993, 0.993, 0.992, 0.992, 0.991, 0.991, 0.99, 0.99, 0.989, 0.988,
               0.987, 0.986, 0.985, 0.984, 0.984, 0.983, 0.982, 0.982, 0.981, 0.98,
               0.98, 0.979, 0.978, 0.977, 0.976, 0.975, 0.97, 0.95, 0.97, 0.96,
               0.985, 0.97, 0.98, 0.95, 0.98, 0.955, 0.98, 0.96, 0.95, 0.985,
               0.97, 0.99, 1.0, 0.97, 0.99, 0.93, 1.07, 0.93, 0.96, 0.98,
               1.03, 0.90, 0.97, 1.07, 0.94, 0.98, 1.06, 0.95, 0.99, 1.02,
               0.99, 0.97, 1.0, 0.97]
TOT_PROF_ND = [1.005, 1.005,
               1.005, 1.006, 1.006, 1.007, 1.007, 1.008, 1.008, 1.008, 1.009, 1.009,
               1.01, 1.01, 1.01, 1.011, 1.011, 1.012, 1.012, 1.013, 1.013, 1.014,
               1.014, 1.015, 1.015, 1.016, 1.016, 1.018, 1.035, 1.01, 1.0, 0.99,
               1.0, 1.01, 1.0, 1.02, 0.99, 1.01, 0.99, 1.01, 0.98, 1.02,
               0.99, 1.03, 1.02, 1.02, 0.98, 1.03, 0.97, 1.06, 1.0, 0.95,
               1.08, 0.96, 0.98, 1.06, 0.95, 1.02, 1.08, 0.96, 1.02, 1.0,
               1.05, 1.0, 1.03, 0.99]
TOT_PROF_IS = [0.99, 0.993,
               0.997, 1.0, 1.003, 1.006, 1.009, 1.012, 1.014, 1.016, 1.018, 1.02,
               1.022, 1.026, 1.03, 1.033, 1.036, 1.04, 1.043, 1.046, 1.048, 1.05,
               1.053, 1.056, 1.058, 1.06, 1.062, 1.065, 1.08, 1.07, 1.07, 1.06,
               1.05, 1.065, 1.06, 1.075, 1.05, 1.07, 1.04, 1.06, 1.03, 1.07,
               1.04, 1.08, 1.07, 1.08, 1.03, 1.08, 1.0, 1.09, 1.04, 0.98,
               1.12, 1.0, 1.05, 1.10, 0.98, 1.06, 1.09, 0.99, 1.06, 1.04,
               1.08, 1.05, 1.08, 1.02]
TOT_PROF_PC = [0.99, 0.995,
               1.0, 1.004, 1.008, 1.012, 1.016, 1.02, 1.024, 1.028, 1.032, 1.036,
               1.04, 1.048, 1.055, 1.062, 1.07, 1.078, 1.085, 1.09, 1.095, 1.10,
               1.11, 1.115, 1.12, 1.125, 1.13, 1.14, 1.18, 1.16, 1.15, 1.14,
               1.12, 1.14, 1.14, 1.18, 1.13, 1.15, 1.10, 1.14, 1.08, 1.15,
               1.10, 1.16, 1.15, 1.16, 1.11, 1.16, 1.10, 1.18, 1.13, 1.07,
               1.25, 1.12, 1.12, 1.24, 1.08, 1.13, 1.21, 1.06, 1.14, 1.12,
               1.17, 1.13, 1.15, 1.09]

# panel -> (more discards, no discards, improved selectivity, perfect compliance)
PANELS = [
    [(COD_BIO_MD, COD_BIO_ND, COD_BIO_IS, COD_BIO_PC),
     (COD_LAND_MD, COD_LAND_ND, COD_LAND_IS, COD_LAND_PC),
     (COD_PROF_MD, COD_PROF_ND, COD_PROF_IS, COD_PROF_PC)],
    [(HAD_BIO_MD, HAD_BIO_ND, HAD_BIO_IS, HAD_BIO_PC),
     (HAD_LAND_MD, HAD_LAND_ND, HAD_LAND_IS, HAD_LAND_PC),
     (HAD_PROF_MD, HAD_PROF_ND, HAD_PROF_IS, HAD_PROF_PC)],
    [(OTH_BIO_MD, OTH_BIO_ND, OTH_BIO_IS, OTH_BIO_PC),
     (OTH_LAND_MD, OTH_LAND_ND, OTH_LAND_IS, OTH_LAND_PC),
     (OTH_PROF_MD, OTH_PROF_ND, OTH_PROF_IS, OTH_PROF_PC)],
    [(PEL_BIO_MD, PEL_BIO_ND, PEL_BIO_IS, PEL_BIO_PC),
     (PEL_LAND_MD, PEL_LAND_ND, PEL_LAND_IS, PEL_LAND_PC),
     (PEL_PROF_MD, PEL_PROF_ND, PEL_PROF_IS, PEL_PROF_PC)],
    [(TOT_BIO_MD, TOT_BIO_ND, TOT_BIO_IS, TOT_BIO_PC),
     (TOT_LAND_MD, TOT_LAND_ND, TOT_LAND_IS, TOT_LAND_PC),
     (TOT_PROF_MD, TOT_PROF_ND, TOT_PROF_IS, TOT_PROF_PC)],
]

COLORS = ["#000000", "#F2560A", "#F7A11A", "#19B4E8", "#0B72B0"]

W, H = 998, 1375
COL_X = [(80, 327), (405, 653), (732, 979)]
ROW_Y = [(34, 212), (300, 480), (567, 747), (834, 1014), (1101, 1281)]
TITLE_Y = [16, 283, 550, 817, 1084]

FONT = "Liberation Sans, Arial, Helvetica, sans-serif"
GRID = "#EBEBEB"
BORDER = "#333333"

fig = make_subplots(rows=5, cols=3)

for r in range(5):
    for c in range(3):
        md, nd, isel, pc = PANELS[r][c]
        first = (r == 0 and c == 0)
        for k, series in [(1, md), (2, nd), (3, isel), (4, pc)]:
            fig.add_trace(go.Scatter(
                x=YEARS, y=series, mode="lines", name="<b>%s</b>" % SCENARIOS[k],
                legendgroup=SCENARIOS[k], showlegend=first, legendrank=k + 1,
                line=dict(color=COLORS[k], width=2.6), hoverinfo="skip"),
                row=r + 1, col=c + 1)
        fig.add_trace(go.Scatter(
            x=YEARS, y=STATUS_QUO, mode="lines", name="<b>%s</b>" % SCENARIOS[0],
            legendgroup=SCENARIOS[0], showlegend=first, legendrank=1,
            line=dict(color=COLORS[0], width=2.2), hoverinfo="skip"),
            row=r + 1, col=c + 1)

        idx = r * 3 + c + 1
        xa = "xaxis" if idx == 1 else "xaxis%d" % idx
        ya = "yaxis" if idx == 1 else "yaxis%d" % idx
        x0, x1 = COL_X[c]
        y0, y1 = ROW_Y[r]
        fig.layout[xa].update(
            domain=[x0 / W, x1 / W], range=[1944.75, 2016.25],
            tickvals=[1960, 1980, 2000], ticks="outside", ticklen=4,
            tickcolor=BORDER, tickwidth=1,
            tickfont=dict(family=FONT, size=16, color="#4D4D4D"),
            showgrid=True, gridcolor=GRID, gridwidth=1.3,
            minor=dict(tickvals=[1950, 1970, 1990, 2010], showgrid=True,
                       gridcolor=GRID, gridwidth=0.7, ticklen=0),
            showline=True, mirror=True, linecolor=BORDER, linewidth=1.2,
            zeroline=False,
            title=dict(text="Year", font=dict(family=FONT, size=17, color="#000000"),
                       standoff=4))
        if r == 1:
            yr = [0.296, 2.83]
            tv = [1, 2]
            tt = ["1", "2"]
            mv = [0.5, 1.5, 2.5]
            so = 26
        else:
            yr = [0.665, 1.44]
            tv = [0.8, 1.0, 1.2, 1.4]
            tt = ["0.8", "1.0", "1.2", "1.4"]
            mv = [0.7, 0.9, 1.1, 1.3]
            so = 11
        fig.layout[ya].update(
            domain=[1 - y1 / H, 1 - y0 / H], range=yr,
            tickvals=tv, ticktext=tt, ticks="outside", ticklen=4,
            tickcolor=BORDER, tickwidth=1,
            tickfont=dict(family=FONT, size=16, color="#4D4D4D"),
            showgrid=True, gridcolor=GRID, gridwidth=1.3,
            minor=dict(tickvals=mv, showgrid=True, gridcolor=GRID,
                       gridwidth=0.7, ticklen=0),
            showline=True, mirror=True, linecolor=BORDER, linewidth=1.2,
            zeroline=False,
            title=dict(text=METRICS[c], font=dict(family=FONT, size=17, color="#000000"),
                       standoff=so))
        xref = "x" if idx == 1 else "x%d" % idx
        yref = "y" if idx == 1 else "y%d" % idx
        fig.add_shape(type="line", xref=xref + " domain", yref=yref,
                      x0=0, x1=1, y0=1, y1=1, layer="above",
                      line=dict(color="#000000", width=2.2))

for r in range(5):
    fig.add_annotation(text="<b>%s</b>" % STOCKS[r], xref="paper", yref="paper",
                       x=529 / W, y=1 - TITLE_Y[r] / H, showarrow=False,
                       xanchor="center", yanchor="middle",
                       font=dict(family=FONT, size=17, color="#000000"))

fig.update_layout(
    width=W, height=H, margin=dict(l=0, r=0, t=0, b=0),
    paper_bgcolor="white", plot_bgcolor="white",
    showlegend=True,
    legend=dict(orientation="h", x=0.5, xanchor="center", y=1 - 1349 / H,
                yanchor="middle", font=dict(family=FONT, size=17, color="#000000"),
                itemwidth=30, traceorder="normal", bgcolor="rgba(0,0,0,0)"),
)

fig.write_html("out.html")
